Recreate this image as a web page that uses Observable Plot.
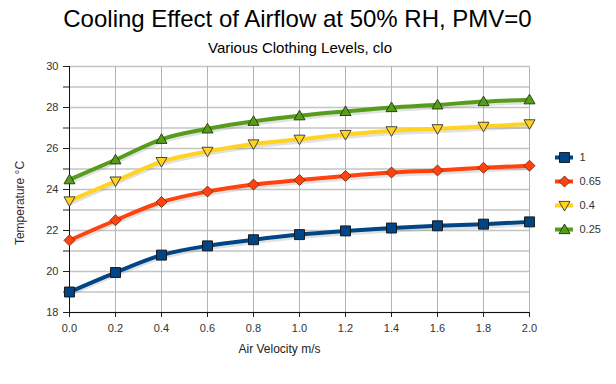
<!DOCTYPE html>
<html><head><meta charset="utf-8">
<script src="https://cdn.jsdelivr.net/npm/d3@7"></script>
<script src="https://cdn.jsdelivr.net/npm/@observablehq/plot@0.6"></script>
<style>
body{margin:0;background:#fff;font-family:"Liberation Sans",Arial,sans-serif;}
#wrap{position:relative;width:616px;height:384px;overflow:hidden;background:#fff;}
#head{position:relative;height:58px;}
#title{position:absolute;left:-10.5px;width:616px;top:7px;text-align:center;font-size:24px;line-height:24px;color:#000;white-space:nowrap;}
#subtitle{position:absolute;left:-8px;width:616px;top:39.6px;text-align:center;font-size:15px;line-height:15px;color:#000;white-space:nowrap;}
#ylabel{position:absolute;left:-40px;top:196.5px;width:120px;text-align:center;font-size:12px;line-height:12px;color:#3a1f3a;transform:rotate(-90deg);white-space:nowrap;}
#legend{position:absolute;left:555px;top:147px;}
svg{display:block;}
</style>
</head><body>
<div id="wrap">
  <div id="head"><div id="title"></div><div id="subtitle"></div></div>
  <div id="chart"></div>
  <div id="ylabel"></div>
  <div id="legend"></div>
</div>
<script>
const titleText = "Cooling Effect of Airflow at 50% RH, PMV=0";
const subtitleText = "Various Clothing Levels, clo";
const xLabel = "Air Velocity m/s";
const yLabel = "Temperature °C";

const velocity = [0.0, 0.2, 0.4, 0.6, 0.8, 1.0, 1.2, 1.4, 1.6, 1.8, 2.0];
const series = ["1", "0.65", "0.4", "0.25"];
const colors = ["#004586", "#ff420e", "#ffd320", "#579d1c"];

const clo1   = [19.00, 19.95, 20.80, 21.25, 21.55, 21.80, 21.98, 22.12, 22.23, 22.31, 22.42];
const clo065 = [21.52, 22.50, 23.39, 23.90, 24.24, 24.46, 24.66, 24.83, 24.93, 25.06, 25.16];
const clo04  = [23.44, 24.41, 25.36, 25.86, 26.22, 26.45, 26.68, 26.86, 26.96, 27.08, 27.20];
const clo025 = [24.48, 25.45, 26.45, 26.96, 27.33, 27.60, 27.81, 28.00, 28.13, 28.29, 28.38];

const xTicks = [0.0, 0.2, 0.4, 0.6, 0.8, 1.0, 1.2, 1.4, 1.6, 1.8, 2.0];
const yTicks = [18, 20, 22, 24, 26, 28, 30];
const yMinor = [18, 19, 20, 21, 22, 23, 24, 25, 26, 27, 28, 29, 30];

document.getElementById("title").textContent = titleText;
document.getElementById("subtitle").textContent = subtitleText;
document.getElementById("ylabel").textContent = yLabel;

const values = [clo1, clo065, clo04, clo025];
const rows = [];
series.forEach((s, i) => velocity.forEach((v, j) => rows.push({clo: s, v, t: values[i][j]})));

// custom marker symbols (size = PI r^2)
const rad = size => Math.sqrt(size / Math.PI);
const symSquare = {draw(c, size){ const r = rad(size); c.rect(-r, -r, 2*r, 2*r); }};
const symDiamond = {draw(c, size){ const r = rad(size); c.moveTo(0,-r); c.lineTo(r,0); c.lineTo(0,r); c.lineTo(-r,0); c.closePath(); }};
const symTriDown = {draw(c, size){ const r = rad(size); c.moveTo(-r,-0.75*r); c.lineTo(r,-0.75*r); c.lineTo(0,r); c.closePath(); }};
const symTriUp = {draw(c, size){ const r = rad(size); c.moveTo(0,-r); c.lineTo(r,0.75*r); c.lineTo(-r,0.75*r); c.closePath(); }};
const syms = [symSquare, symDiamond, symTriDown, symTriUp];
const symR = [5, 5.5, 5.5, 5.5];
const symStroke = ["#111", "#7a2a10", "#333", "#1e3a0a"];

const font = "Liberation Sans, Arial, sans-serif";

const chart = Plot.plot({
  width: 616, height: 326,
  marginTop: 8, marginBottom: 72, marginLeft: 69, marginRight: 87,
  style: {fontFamily: font, fontSize: "11px", color: "#333", background: "#fff", overflow: "visible"},
  x: {domain: [0, 2]},
  y: {domain: [18, 30]},
  color: {domain: series, range: colors},
  marks: [
    Plot.gridY({ticks: yMinor, stroke: "#c4c4c4", strokeOpacity: 1, strokeWidth: 1.3}),
    Plot.gridX({ticks: xTicks, stroke: "#b3b3b3", strokeOpacity: 1}),
    Plot.axisY({ticks: yMinor, tickSize: 6, text: null, label: null, stroke: "#222"}),
    Plot.axisY({ticks: yTicks, tickSize: 6, tickPadding: 5, label: null, stroke: "#222", tickFormat: d => String(d)}),
    Plot.axisX({ticks: xTicks, tickSize: 5, tickPadding: 7, label: null, stroke: "#222", tickFormat: d => d.toFixed(1)}),
    Plot.ruleX([0], {stroke: "#111"}),
    Plot.ruleY([18], {stroke: "#111"}),
    Plot.line(rows, {x: "v", y: "t", z: "clo", stroke: "#777", strokeOpacity: 0.22, strokeWidth: 5, dy: 2, curve: "monotone-x"}),
    Plot.line(rows, {x: "v", y: "t", z: "clo", stroke: "clo", strokeWidth: 4, curve: "monotone-x"}),
    ...series.map((s, i) => Plot.dot(rows.filter(d => d.clo === s), {
      x: "v", y: "t", symbol: syms[i], r: symR[i], fill: "clo", stroke: symStroke[i], strokeWidth: 0.9
    })),
    Plot.text([xLabel], {text: d => d, frameAnchor: "bottom", dx: -20, dy: 40, fontSize: 12, fill: "#222"})
  ]
});
document.getElementById("chart").append(chart);

const legend = Plot.plot({
  width: 61, height: 92,
  marginTop: 10, marginBottom: 10, marginLeft: 0, marginRight: 43,
  style: {fontFamily: font, fontSize: "11px", color: "#333", background: "transparent", overflow: "visible"},
  x: {axis: null, domain: [0, 1]},
  y: {axis: null, type: "point", domain: series, padding: 0},
  color: {domain: series, range: colors},
  marks: [
    Plot.tickY(series, {y: d => d, stroke: d => d, strokeWidth: 4}),
    ...series.map((s, i) => Plot.dot([s], {y: d => d, frameAnchor: "middle", symbol: syms[i], r: symR[i], fill: d => d, stroke: symStroke[i], strokeWidth: 0.9})),
    Plot.text(series, {y: d => d, text: d => d, frameAnchor: "right", textAnchor: "start", dx: 6, fill: "#333"})
  ]
});
document.getElementById("legend").append(legend);
</script>
</body></html>
